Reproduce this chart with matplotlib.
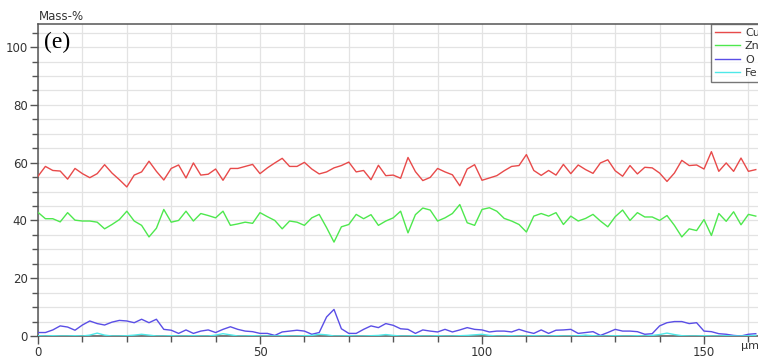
import numpy as np
import matplotlib
matplotlib.use("Agg")
import matplotlib.pyplot as plt
from matplotlib.ticker import MultipleLocator

# line scan, one point every ~1.67 um
step_um = 5.0 / 3.0

cu = [55.3, 58.7, 57.3, 57.1, 54.3, 58.0, 56.2, 54.8, 56.2, 59.3,
      56.4, 54.1, 51.6, 55.7, 56.8, 60.5, 57.0, 54.0, 58.0, 59.2,
      54.7, 59.9, 55.7, 56.0, 57.8, 53.9, 58.0, 58.0, 58.7, 59.4,
      56.2, 58.2, 59.9, 61.5, 58.7, 58.7, 60.1, 57.8, 56.1, 56.8,
      58.2, 59.0, 60.2, 56.8, 57.3, 54.1, 59.1, 55.5, 55.7, 54.6,
      61.8, 56.9, 53.8, 54.9, 58.0, 56.8, 55.8, 52.0, 57.8, 59.3,
      53.9, 54.7, 55.5, 57.2, 58.7, 59.0, 62.8, 57.3, 55.6, 57.3,
      55.7, 59.4, 56.2, 59.2, 57.6, 56.3, 59.9, 61.0, 57.2, 55.3,
      59.0, 56.1, 58.4, 58.2, 56.4, 53.5, 56.4, 60.8, 59.0, 59.2,
      57.8, 63.8, 57.0, 59.9, 57.0, 61.6, 57.0, 57.6]

zn = [42.8, 40.6, 40.6, 39.5, 42.7, 40.1, 39.8, 39.8, 39.4, 37.1,
      38.6, 40.3, 43.2, 39.8, 38.3, 34.3, 37.3, 43.8, 39.4, 40.0,
      43.2, 39.8, 42.4, 41.7, 40.9, 43.2, 38.3, 38.8, 39.4, 39.0,
      42.7, 41.3, 40.0, 37.1, 39.8, 39.4, 38.3, 40.9, 42.1, 37.5,
      32.5, 37.8, 38.6, 42.1, 40.6, 42.0, 38.3, 39.8, 40.9, 43.2,
      35.7, 42.0, 44.3, 43.6, 39.8, 40.9, 42.4, 45.5, 39.2, 38.3,
      43.8, 44.4, 43.2, 40.7, 39.8, 38.6, 36.0, 41.5, 42.4, 41.5,
      42.7, 38.6, 41.5, 39.8, 40.7, 42.1, 39.8, 37.8, 41.3, 43.6,
      40.0, 42.7, 41.2, 41.2, 40.0, 41.7, 38.3, 34.3, 37.1, 36.5,
      40.3, 34.8, 42.4, 39.7, 43.0, 38.5, 42.1, 41.5]

o = [1.2, 1.2, 2.1, 3.5, 3.1, 2.0, 3.8, 5.2, 4.3, 3.8,
     4.8, 5.4, 5.2, 4.6, 5.8, 4.6, 5.8, 2.3, 2.0, 0.9,
     2.1, 0.9, 1.7, 2.1, 1.2, 2.3, 3.2, 2.3, 1.7, 1.5,
     0.9, 0.9, 0.2, 1.4, 1.7, 2.0, 1.7, 0.6, 1.2, 6.6,
     9.2, 2.5, 0.9, 0.9, 2.3, 3.5, 2.9, 4.3, 3.7, 2.5,
     2.3, 0.9, 2.1, 1.7, 1.4, 2.3, 1.4, 2.1, 2.9, 2.3,
     2.1, 1.4, 1.7, 1.7, 1.4, 2.3, 1.5, 0.9, 2.1, 0.9,
     2.0, 2.1, 2.3, 0.9, 1.2, 1.5, 0.2, 1.2, 2.3, 1.7,
     1.7, 1.5, 0.6, 0.8, 3.5, 4.6, 5.0, 5.0, 4.3, 4.6,
     1.7, 1.5, 0.8, 0.6, 0.2, 0.0, 0.6, 0.8]

fe = [0.1, 0.0, 0.1, 0.0, 0.0, 0.1, 0.0, 0.3, 1.0, 0.3,
      0.0, 0.0, 0.1, 0.3, 0.6, 0.3, 0.0, 0.0, 0.1, 0.0,
      0.0, 0.1, 0.0, 0.0, 0.3, 0.8, 0.4, 0.0, 0.0, 0.1,
      0.0, 0.0, 0.0, 0.1, 0.0, 0.0, 0.1, 0.2, 0.6, 0.4,
      0.0, 0.0, 0.1, 0.0, 0.0, 0.1, 0.2, 0.5, 0.2, 0.0,
      0.0, 0.1, 0.0, 0.0, 0.1, 0.0, 0.0, 0.1, 0.2, 0.4,
      0.6, 0.2, 0.0, 0.0, 0.1, 0.0, 0.0, 0.1, 0.0, 0.0,
      0.1, 0.0, 0.0, 0.1, 0.3, 0.1, 0.0, 0.0, 0.1, 0.0,
      0.0, 0.1, 0.0, 0.2, 0.5, 1.0, 0.5, 0.1, 0.0, 0.0,
      0.1, 0.0, 0.0, 0.1, 0.0, 0.0, 0.1, 0.2]

labels = ["Cu", "Zn", "O", "Fe"]
colors = ["#e84a4a", "#4ee84e", "#5a4ee6", "#4ee8e8"]

dist = np.arange(len(cu)) * step_um

W, H = 758, 358
fig = plt.figure(figsize=(W / 100, H / 100), dpi=100)
# axes run past the right edge of the picture (cut off like the original)
ax = fig.add_axes([38 / W, 22 / H, (790 - 38) / W, 312 / H])

for series, lab, col in zip([cu, zn, o, fe], labels, colors):
    ax.plot(dist, series, color=col, lw=1.0, label=lab, zorder=3)

ax.set_xlim(0, (790 - 38) / 4.44)
ax.set_ylim(0, 108)

ax.xaxis.set_major_locator(MultipleLocator(50))
ax.xaxis.set_minor_locator(MultipleLocator(10))
ax.yaxis.set_major_locator(MultipleLocator(20))
ax.yaxis.set_minor_locator(MultipleLocator(5))

ax.grid(which="both", color="#e3e3e3", lw=0.9, zorder=0)
ax.set_axisbelow(True)

spine_col = "#555555"
for s in ax.spines.values():
    s.set_color(spine_col)
    s.set_linewidth(1.1)

ax.tick_params(which="major", length=6, width=1, color=spine_col,
               labelsize=8.5, labelcolor="#333333", pad=1.5)
ax.tick_params(which="minor", length=4, width=1, color=spine_col)

fig.text(39 / W, 1 - 17 / H, "Mass-%", fontsize=8.5, color="#333333",
         ha="left", va="center")
fig.text(741 / W, 1 - 346 / H, "\u03bcm", fontsize=8, color="#333333",
         ha="left", va="center")
ax.text(44 / W, 1 - 42 / H, "(e)", transform=fig.transFigure,
        family="Liberation Serif", fontsize=17, ha="left", va="center")

leg = ax.legend(loc="upper left", bbox_to_anchor=(711 / W, 1 - 24 / H),
                bbox_transform=fig.transFigure, borderaxespad=0,
                fontsize=8, frameon=True, fancybox=False,
                handlelength=2.3, handletextpad=0.4, labelspacing=0.3,
                borderpad=0.35)
leg.get_frame().set_edgecolor(spine_col)
leg.get_frame().set_linewidth(1.0)
for t in leg.get_texts():
    t.set_color("#333333")

fig.savefig("out.png", dpi=100)
